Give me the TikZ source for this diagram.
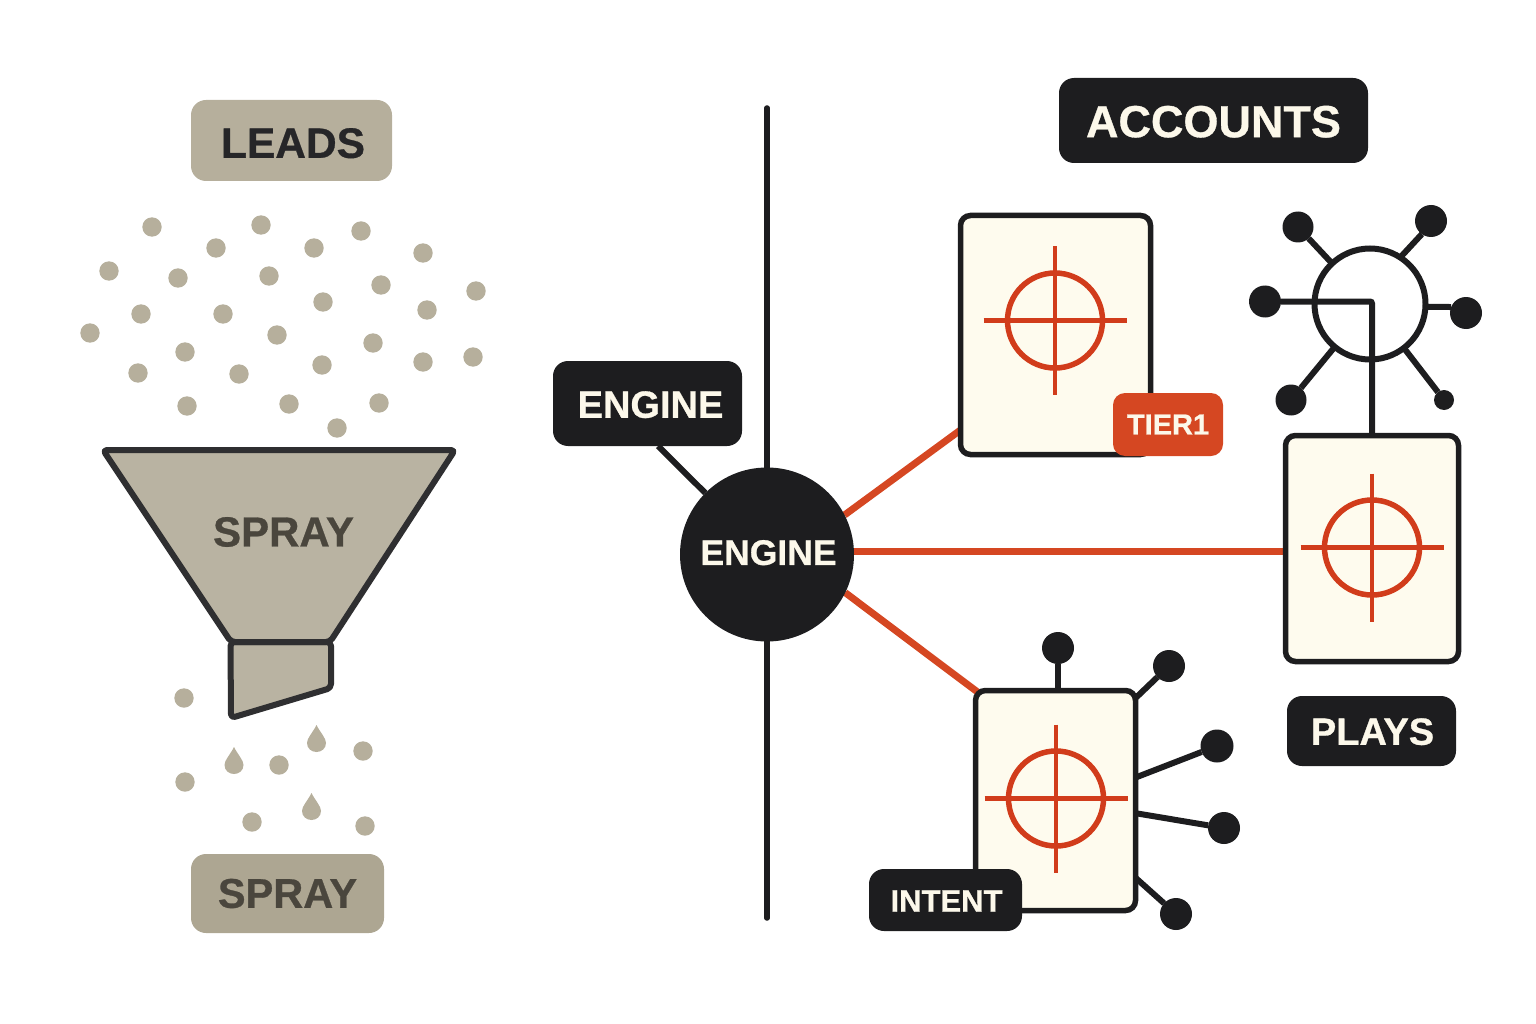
\documentclass[tikz,border=0pt]{standalone}
\usepackage{fontspec}
\setmainfont{Liberation Sans}[BoldFeatures={FakeBold=0.7}]
\usetikzlibrary{calc}
\definecolor{ink}{HTML}{1D1D1F}
\definecolor{tanfill}{HTML}{B9B3A2}
\definecolor{tandot}{HTML}{B6AF9C}
\definecolor{tanbox}{HTML}{ADA692}
\definecolor{tantext}{HTML}{4A463D}
\definecolor{cream}{HTML}{FEFBEE}
\definecolor{creamtext}{HTML}{FCF8EA}
\definecolor{redline}{HTML}{D54722}
\definecolor{redmark}{HTML}{D13C1B}
\pgfdeclarelayer{bg}
\pgfsetlayers{bg,main}
\newcommand{\nudged}[3]{\raisebox{-#2}[\height][0pt]{\kern#1\relax #3\kern-#1\relax}}
\tikzset{
  blackbox/.style={fill=ink,text=creamtext,rounded corners=15pt,inner sep=0pt,outer sep=0pt},
  tanlabel/.style={fill=tanbox,text=tantext,rounded corners=15pt,inner sep=0pt,outer sep=0pt},
  card/.style={draw=ink,fill=cream,line width=5.5pt,rounded corners=10pt,inner sep=0pt,outer sep=0pt},
  sat/.style={circle,fill=ink,inner sep=0pt,outer sep=0pt,minimum size=#1},
  spoke/.style={draw=ink,line width=6pt},
  redlink/.style={draw=redline,line width=7pt},
  funnelshape/.style={draw=ink!92!white,fill=tanfill,line width=6pt,rounded corners=4pt,line join=round},
  pics/crosshair/.style={code={
    \draw[draw=redmark,line width=5.5pt] (0,0) circle[radius=47.5pt];
    \draw[draw=redmark,line width=4.8pt] (-71.5,0) -- (71.5,0) (0,-74) -- (0,74);
  }},
  pics/drop/.style={code={
    \fill[tandot] (0,-17) .. controls (4,-9) and (9.5,-4) .. (9.5,1)
      .. controls (9.5,6.5) and (5,10) .. (0,10)
      .. controls (-5,10) and (-9.5,6.5) .. (-9.5,1)
      .. controls (-9.5,-4) and (-4,-9) .. (0,-17) -- cycle;
  }}
}
\begin{document}
\begin{tikzpicture}[x=1pt,y=-1pt]
\useasboundingbox (0,0) rectangle (1536,1024);
% dots
\foreach \px/\py in {152/227,261/225,361/231,216/248,314/248,423/253,109/271,178/278,269/276,381/285,476/291,141/314,223/314,323/302,427/310,90/333,277/335,373/343,185/352,322/365,423/362,473/357,138/373,239/374,187/406,289/404,379/403,337/428,184/698,363/751,279/765,185/782,252/822,365/826}
  \fill[tandot] (\px,\py) circle[radius=9.7pt];
\pic at (234,764) {drop};
\pic at (316.5,742) {drop};
\pic at (311.5,810) {drop};
% funnel
\draw[funnelshape] (230.5,642) -- (331,642) -- (331,688) -- (231,718) -- cycle;
\draw[funnelshape] (103,450) -- (455,450) -- (330,642) -- (231,642) -- cycle;
\node[inner sep=0pt,outer sep=0pt,text=tantext,font=\bfseries\fontsize{42}{42}\selectfont] (spraymid) at (283.5,532) {SPRAY};
% left labels
\node[tanlabel,minimum width=201pt,minimum height=81pt,fill=tandot,text=ink!96!white,font=\bfseries\fontsize{42.5}{42.5}\selectfont] (leads) at (291.5,140.5) {\nudged{1.5pt}{2.5pt}{LEADS}};
\node[tanlabel,minimum width=193pt,minimum height=79pt,font=\bfseries\fontsize{41.5}{41.5}\selectfont] (spraylab) at (287.5,893.5) {SPRAY};
% hub and engine
\node[blackbox,minimum width=189pt,minimum height=85pt,font=\bfseries\fontsize{38}{38}\selectfont] (enginebox) at (647.5,403.5) {\nudged{3pt}{1pt}{ENGINE}};
\node[circle,fill=ink,text=creamtext,inner sep=0pt,outer sep=0pt,minimum size=174pt,font=\bfseries\fontsize{35.5}{35.5}\selectfont] (hub) at (767,554.5) {\nudged{1.5pt}{-2pt}{ENGINE}};
\coordinate (axistop) at (767,108);
\coordinate (axisbot) at (767,918);
% cards
\node[card,minimum width=190pt,minimum height=239pt] (card1) at (1055.5,335) {};
\node[card,minimum width=173pt,minimum height=226pt] (card2) at (1372,548.5) {};
\node[card,minimum width=160pt,minimum height=220pt] (card3) at (1055.5,800.5) {};
\pic at (1055,320.5) {crosshair};
\pic at (1372,547.5) {crosshair};
\pic at (1056,798.5) {crosshair};
% header labels
\node[blackbox,minimum width=309pt,minimum height=85pt,font=\bfseries\fontsize{45}{45}\selectfont] (accounts) at (1213.5,120.5) {\nudged{0pt}{1pt}{ACCOUNTS}};
\node[blackbox,minimum width=169pt,minimum height=70pt,font=\bfseries\fontsize{38}{38}\selectfont] (plays) at (1371.5,731) {\nudged{1pt}{0.5pt}{PLAYS}};
\node[blackbox,minimum width=153pt,minimum height=62pt,font=\bfseries\fontsize{31}{31}\selectfont] (intent) at (945.5,900) {\nudged{1pt}{1pt}{INTENT}};
\node[fill=redline,text=creamtext,rounded corners=12pt,inner sep=0pt,outer sep=0pt,minimum width=110pt,minimum height=63pt,font=\bfseries\fontsize{29}{29}\selectfont] (tier) at (1168,424.5) {TIER1};
% network above card 2
\node[circle,draw=ink,fill=white,line width=6pt,inner sep=0pt,outer sep=0pt,minimum size=111pt] (ring) at (1370,304) {};
\node[sat=31pt] (n1) at (1298,227) {};
\node[sat=32pt] (n2) at (1431,221) {};
\node[sat=32pt] (n3) at (1265,301.5) {};
\node[sat=32pt] (n4) at (1466,313) {};
\node[sat=31pt] (n5) at (1291,400) {};
\node[sat=20pt] (n6) at (1444,400) {};
\draw[spoke,rounded corners=2pt] (n3) -| (card2.north);
% network round card 3
\node[sat=32pt] (m1) at (1058,648) {};
\node[sat=32pt] (m2) at (1169,666) {};
\node[sat=33pt] (m3) at (1217,746) {};
\node[sat=32pt] (m4) at (1224,828) {};
\node[sat=32pt] (m5) at (1176,914) {};
\begin{pgfonlayer}{bg}
  \draw[ink,line width=5.5pt,line cap=round] (axistop) -- (axisbot);
  \draw[spoke] (enginebox.284) -- (hub);
  \draw[redlink] (hub.27) -- (card1.225);
  \draw[redlink] (hub.2) -- (hub.2 -| card2.west);
  \draw[redlink] (hub.-26) -- ($(card3.north west)+(6,4.5)$);
  \foreach \n in {n1,n5,n6} \draw[spoke] (ring) -- (\n);
  \draw[spoke] (ring.57) -- (n2.235);
  \draw[spoke] (ring.-3) -- (n4.158);
  \draw[spoke] (m1) -- (m1 |- card3.north);
  \draw[spoke] (card3.52) -- (m2);
  \draw[spoke] (card3.16) -- (m3);
  \draw[spoke] (card3.-9) -- (m4);
  \draw[spoke] (card3.-44) -- (m5);
\end{pgfonlayer}
\end{tikzpicture}
\end{document}
